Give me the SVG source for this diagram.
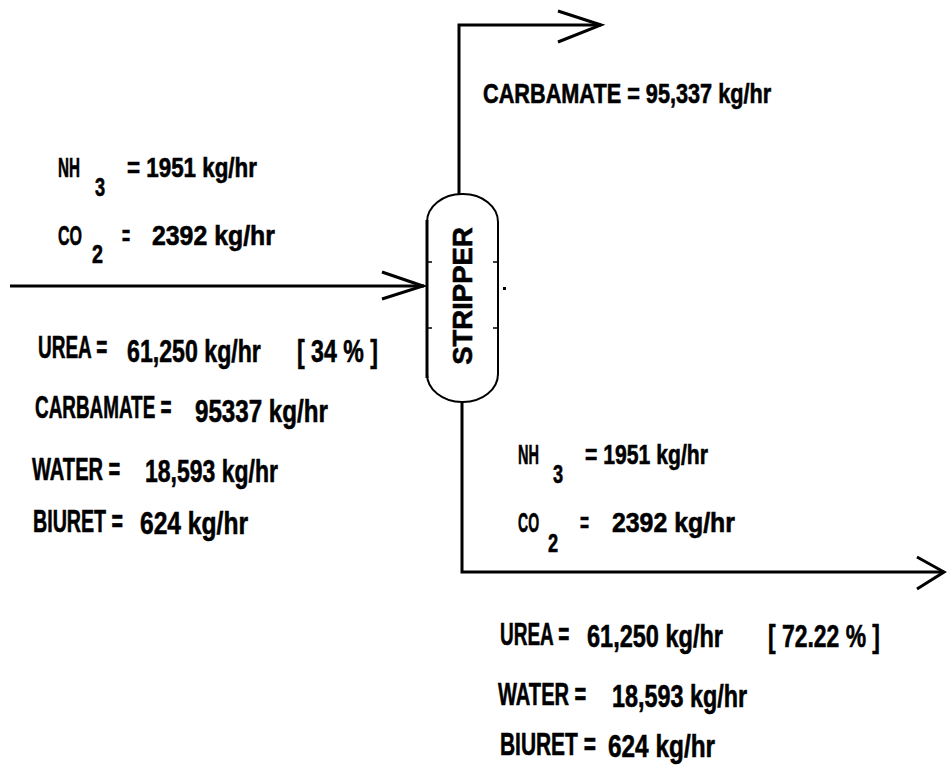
<svg xmlns="http://www.w3.org/2000/svg" width="947" height="781" viewBox="0 0 947 781">
<style>
.t{font-family:"Liberation Sans",Arial,sans-serif;font-weight:bold;fill:#000;stroke:#000;stroke-width:0.6;}
.m{font-size:32px;}
.s{font-size:27px;}
.c{font-size:28px;}
.sub{font-size:26px;}
.ln{fill:none;stroke:#000;stroke-width:3;}
.ah{fill:none;stroke:#000;stroke-width:3;stroke-linejoin:miter;}
</style>
<rect width="947" height="781" fill="#fff"/>
<g id="connectors">
  <path class="ln" d="M459,194 V25 H601"/>
  <path class="ah" d="M558,11 L601,25 L558,42"/>
  <path class="ln" d="M10,286 H424"/>
  <path class="ah" d="M382,272 L423,286 L382,299"/>
  <path class="ln" d="M462,402 V572 H944"/>
  <path class="ah" d="M917,557 L944,572 L917,589"/>
</g>
<g id="stripper">
  <rect x="427" y="194" width="71" height="208" rx="35" ry="28" fill="#fff" stroke="#000" stroke-width="2"/>
  <line x1="427" y1="220" x2="427" y2="378" stroke="#000" stroke-width="3"/>
  <path d="M427,262 h5 M427,328 h5 M498,262 h-5 M498,328 h-5" stroke="#000" stroke-width="1.5"/>
  <rect x="503" y="287" width="3" height="3" fill="#000"/>
  <text class="t" font-size="27.5" text-anchor="middle" transform="translate(472,296) rotate(-90)">STRIPPER</text>
</g>
<g id="top-out-label">
  <text class="t c" transform="translate(483,103) scale(0.775,1)">CARBAMATE = 95,337 kg/hr</text>
</g>
<g id="feed-gas-label">
  <text class="t s" transform="translate(58,177) scale(0.564,1)">NH</text>
  <text class="t sub" transform="translate(95,196) scale(0.7,1)">3</text>
  <text class="t s" transform="translate(127,177) scale(0.829,1)">= 1951 kg/hr</text>
  <text class="t s" transform="translate(58,245) scale(0.593,1)">CO</text>
  <text class="t sub" transform="translate(92,263) scale(0.76,1)">2</text>
  <text class="t s" transform="translate(122,245) scale(0.51,1)">=</text>
  <text class="t s" transform="translate(152,245) scale(0.92,1)">2392 kg/hr</text>
</g>
<g id="feed-liquid-label">
  <text class="t m" transform="translate(38,358) scale(0.593,1)">UREA =</text>
  <text class="t m" transform="translate(127,362) scale(0.724,1)">61,250 kg/hr</text>
  <text class="t m" transform="translate(297,362) scale(0.723,1)">[ 34 % ]</text>
  <text class="t m" transform="translate(35,418) scale(0.59,1)">CARBAMATE =</text>
  <text class="t m" transform="translate(195,422) scale(0.755,1)">95337 kg/hr</text>
  <text class="t m" transform="translate(32,480) scale(0.628,1)">WATER =</text>
  <text class="t m" transform="translate(145,482) scale(0.719,1)">18,593 kg/hr</text>
  <text class="t m" transform="translate(33,532) scale(0.614,1)">BIURET =</text>
  <text class="t m" transform="translate(140,534) scale(0.769,1)">624 kg/hr</text>
</g>
<g id="bottom-gas-label">
  <text class="t s" transform="translate(518,464) scale(0.538,1)">NH</text>
  <text class="t sub" transform="translate(553,483) scale(0.7,1)">3</text>
  <text class="t s" transform="translate(585,464) scale(0.784,1)">= 1951 kg/hr</text>
  <text class="t s" transform="translate(518,532) scale(0.52,1)">CO</text>
  <text class="t sub" transform="translate(548,552) scale(0.7,1)">2</text>
  <text class="t s" transform="translate(580,532) scale(0.57,1)">=</text>
  <text class="t s" transform="translate(612,532) scale(0.92,1)">2392 kg/hr</text>
</g>
<g id="bottom-liquid-label">
  <text class="t m" transform="translate(500,645) scale(0.593,1)">UREA =</text>
  <text class="t m" transform="translate(587,647) scale(0.735,1)">61,250 kg/hr</text>
  <text class="t m" transform="translate(768,647) scale(0.716,1)">[ 72.22 % ]</text>
  <text class="t m" transform="translate(498,705) scale(0.628,1)">WATER =</text>
  <text class="t m" transform="translate(612,707) scale(0.73,1)">18,593 kg/hr</text>
  <text class="t m" transform="translate(500,755) scale(0.654,1)">BIURET =</text>
  <text class="t m" transform="translate(608,757) scale(0.762,1)">624 kg/hr</text>
</g>
</svg>
